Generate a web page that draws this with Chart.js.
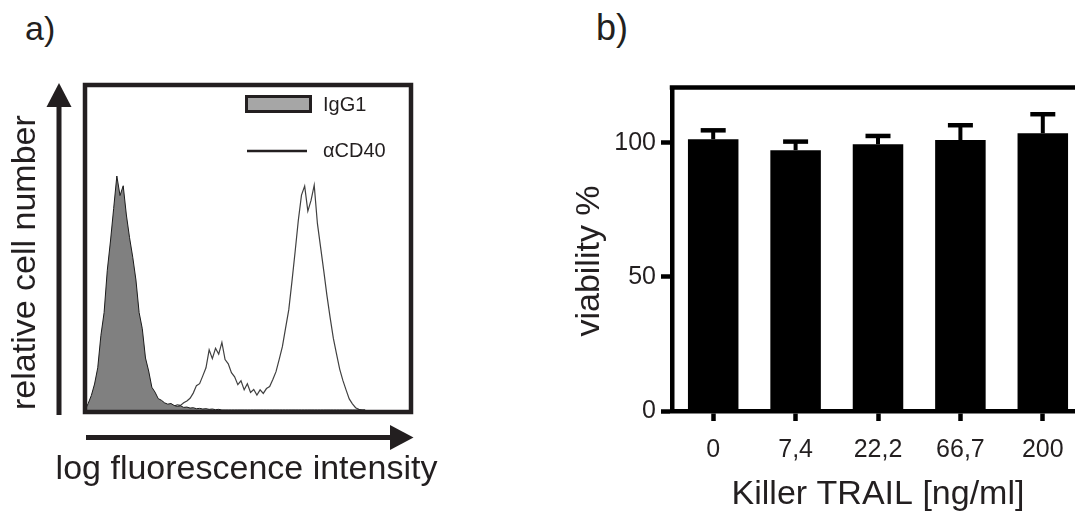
<!DOCTYPE html>
<html>
<head>
<meta charset="utf-8">
<script src="https://cdn.jsdelivr.net/npm/chart.js@4.4.1/dist/chart.umd.min.js"></script>
<style>
  html, body { margin: 0; padding: 0; background: #fff; overflow: hidden; width: 1075px; height: 517px; }
  .panel-label { position: absolute; font-family: Arial, Helvetica, sans-serif; color: #231f20; line-height: 1; }
  canvas { position: absolute; top: 0; }
</style>
</head>
<body>
<div class="panel-label" style="left:25px;top:11px;font-size:34px">a)</div>
<div class="panel-label" style="left:596px;top:10px;font-size:36px">b)</div>
<canvas id="histo" width="540" height="517" style="left:0"></canvas>
<canvas id="viab" width="550" height="517" style="left:540px"></canvas>
<script>
// a) flow histogram, channel grid + counts
const channels = [0, 10, 20, 30, 40, 50, 60, 70, 80, 90,
    100, 110, 120, 130, 140, 150, 160, 170, 180, 190,
    200, 210, 220, 230, 240, 250, 260, 270, 280, 290,
    300, 310, 320, 330, 340, 350, 360, 370, 380, 390,
    400, 410, 420, 430, 440, 450, 460, 470, 480, 490,
    500, 510, 520, 530, 540, 550, 560, 570, 580, 590,
    600, 610, 620, 630, 640, 650, 660, 670, 680, 690,
    700, 710, 720, 730, 740, 750, 760, 770, 780, 790,
    800, 810, 820, 830, 840, 850, 860, 870, 880];

const igg1Counts = [0, 2, 4.5, 8, 13, 23, 30, 43, 52, 62,
    72, 66, 69, 60, 53, 47, 40, 30, 25, 16,
    12, 7, 5.5, 3.5, 3, 2.2, 1.8, 2, 1.4, 1.1,
    1.3, 0.8, 0.9, 0.6, 0.7, 0.4, 0.5, 0.3, 0.4, 0.2,
    0.3, 0.1, 0.2, 0, 0, 0, 0, 0, 0, 0,
    0, 0, 0, 0, 0, 0, 0, 0, 0, 0,
    0, 0, 0, 0, 0, 0, 0, 0, 0, 0,
    0, 0, 0, 0, 0, 0, 0, 0, 0, 0,
    0, 0, 0, 0, 0, 0, 0, 0, 0];

const cd40Counts = [0, 0, 0, 0, 0, 0, 0, 0, 0, 0,
    0, 0, 0, 0, 0, 0, 0, 0, 0, 0,
    0, 0, 0, 0, 0.3, 0.6, 0.5, 0.9, 1.2, 1.6,
    1.4, 2.2, 2.8, 3.6, 5.2, 7.5, 8.1, 10.5, 13, 18.5,
    15.8, 19, 17.2, 20.8, 15.5, 14.2, 11.5, 10.2, 7.8, 9,
    6.2, 8.1, 5.4, 6.3, 4.6, 6.2, 5.1, 6.6, 7.2, 9.4,
    11.8, 15.6, 19.5, 25.2, 30.8, 39.5, 48.7, 58.3, 66.1, 68.9,
    61.2, 64.5, 69.2, 57.4, 50.1, 42.8, 35.2, 28.4, 22.1, 17.3,
    12.6, 9.1, 6.2, 3.4, 1.9, 0.7, 0.2, 0, 0];

// b) viability
const doses = ['0', '7,4', '22,2', '66,7', '200'];
const viability = [101.3, 97.2, 99.4, 101.0, 103.5];
const viabilityErr = [3.3, 3.2, 3.1, 5.5, 7.1];
const viabilityTicks = [0, 50, 100];

const ink = '#231f20';
const family = "Arial, Helvetica, sans-serif";
Chart.defaults.font.family = family;
Chart.defaults.color = ink;

function toPoints(counts) {
    return channels.map((c, i) => ({x: c, y: counts[i]}));
}

// frame, arrows, x label and legend of the histogram
const histFrame = {
    id: 'histFrame',
    afterDraw(chart) {
        const ctx = chart.ctx;
        const a = chart.chartArea;
        const ds = chart.data.datasets;
        ctx.save();
        ctx.strokeStyle = ink;
        ctx.fillStyle = ink;
        ctx.lineWidth = 4.5;
        ctx.strokeRect(a.left, a.top, a.right - a.left, a.bottom - a.top + 2);

        // axis arrows
        const ax = a.left - 26;
        ctx.lineWidth = 5;
        ctx.beginPath(); ctx.moveTo(ax, a.bottom + 5); ctx.lineTo(ax, a.top + 19); ctx.stroke();
        ctx.beginPath(); ctx.moveTo(ax - 12.5, a.top + 22); ctx.lineTo(ax + 12.5, a.top + 22); ctx.lineTo(ax, a.top - 2); ctx.closePath(); ctx.fill();
        const ay = a.bottom + 27.5;
        ctx.beginPath(); ctx.moveTo(a.left + 1, ay); ctx.lineTo(a.right - 19, ay); ctx.stroke();
        ctx.beginPath(); ctx.moveTo(a.right - 21, ay - 12.5); ctx.lineTo(a.right - 21, ay + 12.5); ctx.lineTo(a.right + 2.5, ay); ctx.closePath(); ctx.fill();

        // x label is wider than the plot, so no maxWidth squeeze
        ctx.font = '34px ' + family;
        ctx.textAlign = 'center';
        ctx.textBaseline = 'alphabetic';
        ctx.fillText('log fluorescence intensity', (a.left + a.right) / 2 - 1.5, a.bottom + 69);

        // legend
        ctx.font = '20px ' + family;
        ctx.textAlign = 'left';
        ctx.textBaseline = 'middle';
        ctx.fillStyle = '#a6a6a6';
        ctx.fillRect(246.5, 96.5, 64, 15);
        ctx.lineWidth = 3;
        ctx.strokeRect(246.5, 96.5, 64, 15);
        ctx.fillStyle = ink;
        ctx.fillText(ds[0].label, 323, 105);
        ctx.lineWidth = 2.5;
        ctx.beginPath(); ctx.moveTo(247, 151); ctx.lineTo(307, 151); ctx.stroke();
        ctx.fillText(ds[1].label, 323, 151);
        ctx.restore();
    }
};

new Chart(document.getElementById('histo'), {
    type: 'line',
    data: {
        datasets: [{
            label: 'IgG1',
            data: toPoints(igg1Counts),
            backgroundColor: '#808080',
            borderColor: '#1a1a1a',
            borderWidth: 1,
            fill: 'origin',
            pointRadius: 0,
            tension: 0
        }, {
            label: 'αCD40',
            data: toPoints(cd40Counts),
            borderColor: '#404040',
            borderWidth: 1.2,
            fill: false,
            pointRadius: 0,
            tension: 0
        }]
    },
    options: {
        responsive: false,
        animation: false,
        devicePixelRatio: 1,
        layout: {padding: {top: 85, right: 129, bottom: 0, left: 0}},
        scales: {
            x: {
                type: 'linear',
                min: 0,
                max: 1024,
                ticks: {display: false},
                grid: {display: false},
                border: {display: false},
                afterFit: s => { s.height = 107; }
            },
            y: {
                min: 0,
                max: 100,
                ticks: {display: false},
                grid: {display: false},
                border: {display: false},
                title: {display: true, text: 'relative cell number', align: 'start', font: {size: 34}, padding: {top: 5, bottom: 0}},
                afterFit: s => { s.width = 85; }
            }
        },
        plugins: {
            legend: {display: false},
            tooltip: {enabled: false}
        }
    },
    plugins: [histFrame]
});

// error bars (upper only), top frame line, y label
const errorBars = {
    id: 'errorBars',
    afterDatasetsDraw(chart) {
        const ctx = chart.ctx;
        const y = chart.scales.y;
        const meta = chart.getDatasetMeta(0);
        ctx.save();
        ctx.strokeStyle = '#000';
        meta.data.forEach((bar, i) => {
            const top = y.getPixelForValue(viability[i] + viabilityErr[i]);
            ctx.lineWidth = 4;
            ctx.beginPath(); ctx.moveTo(bar.x, bar.y); ctx.lineTo(bar.x, top); ctx.stroke();
            ctx.lineWidth = 4.5;
            ctx.beginPath(); ctx.moveTo(bar.x - 12.5, top); ctx.lineTo(bar.x + 12.5, top); ctx.stroke();
        });
        const a = chart.chartArea;
        ctx.beginPath(); ctx.moveTo(a.left - 2.25, a.top - 1.5); ctx.lineTo(chart.width, a.top - 1.5); ctx.stroke();

        ctx.translate(50, 261);
        ctx.rotate(-Math.PI / 2);
        ctx.font = '34px ' + family;
        ctx.fillStyle = ink;
        ctx.textAlign = 'center';
        ctx.textBaseline = 'middle';
        ctx.fillText('viability %', 0, 0);
        ctx.restore();
    }
};

new Chart(document.getElementById('viab'), {
    type: 'bar',
    data: {
        labels: doses,
        datasets: [{
            label: 'viability %',
            data: viability,
            backgroundColor: '#000',
            barPercentage: 0.613,
            categoryPercentage: 1.0
        }]
    },
    options: {
        responsive: false,
        animation: false,
        devicePixelRatio: 1,
        layout: {padding: {top: 89, right: 6, bottom: 0, left: 0}},
        scales: {
            x: {
                grid: {display: true, offset: false, drawOnChartArea: false, tickLength: 10, tickWidth: 4.5, tickColor: '#000'},
                border: {display: true, color: '#000', width: 4.5},
                ticks: {font: {size: 25}, padding: 14},
                title: {display: true, text: 'Killer TRAIL [ng/ml]', font: {size: 34}, padding: {top: 0, bottom: 2}},
                afterFit: s => { s.height = 106; }
            },
            y: {
                min: 0,
                max: 120,
                afterBuildTicks: s => { s.ticks = viabilityTicks.map(v => ({value: v})); },
                grid: {drawOnChartArea: false, tickLength: 11, tickWidth: 4.5, tickColor: '#000'},
                border: {display: true, color: '#000', width: 4.5},
                ticks: {font: {size: 25}, padding: 5},
                afterFit: s => { s.width = 132; }
            }
        },
        plugins: {
            legend: {display: false},
            tooltip: {enabled: false}
        }
    },
    plugins: [errorBars]
});
</script>
</body>
</html>
